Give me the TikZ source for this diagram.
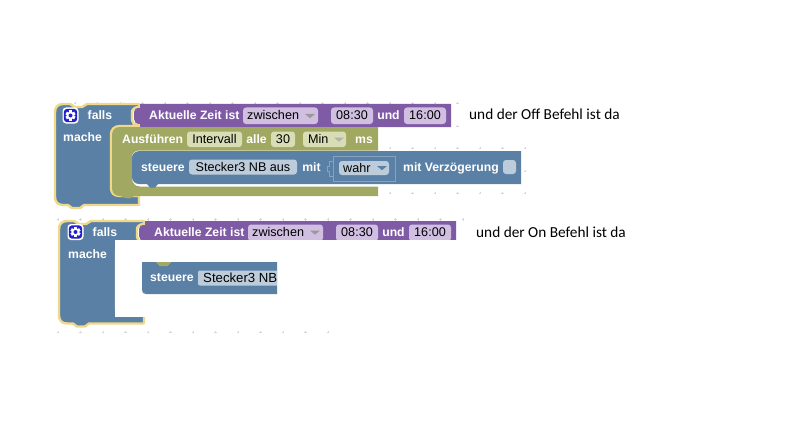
\documentclass[tikz,border=0pt]{standalone}
\usepackage{fontspec}
\setmainfont{Liberation Sans}
\newfontfamily\notefont{Carlito}
\definecolor{bblue}{HTML}{5B80A5}
\definecolor{bpurple}{HTML}{7F5BA6}
\definecolor{bgreen}{HTML}{A0A862}
\definecolor{byellow}{HTML}{EFD88A}
\definecolor{fblue}{HTML}{BDCCDB}
\definecolor{fpurple}{HTML}{D0BFE0}
\definecolor{fgreen}{HTML}{D9DDB5}
\definecolor{griddot}{HTML}{D8D8D8}
\definecolor{iconblue}{HTML}{2222CC}
\tikzset{
  lab/.style={font=\fontsize{12.2}{14}\selectfont\bfseries,text=white,inner sep=0pt,anchor=base west},
  labc/.style={font=\fontsize{12.2}{14}\selectfont\bfseries,text=white,inner sep=0pt,anchor=base},
  fieldtext/.style={font=\fontsize{12.6}{14}\selectfont,text=black,inner sep=0pt,anchor=base west},
  fieldc/.style={font=\fontsize{12.6}{14}\selectfont,text=black,inner sep=0pt,anchor=base},
  fld/.style={rounded corners=3pt,draw=none},
  hatfill/.style={line width=2.4pt,draw=byellow,fill=bblue,line join=round},
  note/.style={font=\notefont\fontsize{15.3}{17}\selectfont,text=black,inner sep=0pt,anchor=base west},
  griddotmark/.style={griddot,line width=0.5pt}
}
\newcommand{\gdot}[2]{\draw[griddotmark] (#1-1.2,#2) -- (#1+1.2,#2) (#1,#2-1.2) -- (#1,#2+1.2);}
\newcommand{\arrowdown}[3]{\fill[#3] (#1-5,#2-2) -- (#1+5,#2-2) -- (#1,#2+2.2) -- cycle;}
\newcommand{\gearicon}[2]{%
  \fill[white,rounded corners=3.5pt] (#1-8,#2-8) rectangle (#1+8,#2+8);
  \fill[iconblue,rounded corners=3pt] (#1-6.6,#2-6.6) rectangle (#1+6.6,#2+6.6);
  \foreach \a in {0,60,120}{\fill[white,rotate around={\a:(#1,#2)}] (#1-1.5,#2-5) rectangle (#1+1.5,#2+5);}
  \fill[white] (#1,#2) circle (3.9);
  \fill[iconblue] (#1,#2) circle (2);
}
\begin{document}
\begin{tikzpicture}[x=1pt,y=-1pt]
\useasboundingbox (0,0) rectangle (794,425);
\fill[white] (0,0) rectangle (794,425);
% grid points, first block
\foreach \x in {75,97.5,120,142.5,165,187.5,210,232.5,255,277.5,300,322.5,345,367.5,390,412.5,435,457.5}{\gdot{\x}{103}}
\gdot{457.5}{126}
\foreach \x in {390,412.5,435,457.5,480,502.5,525}{\gdot{\x}{148}\gdot{\x}{193}}
\gdot{525}{171}
% grid points, second block
\foreach \x in {58,80.5,103,125.5,148,170.5,193,215.5,238,260.5,283,305.5,328}{\gdot{\x}{332}}
\foreach \x in {58,80.5,103,125.5,148,170.5,193,215.5,238,260.5,283,305.5,328,350.5,373,395.5,418,440.5,463}{\gdot{\x}{219.5}}
\gdot{553}{265}\gdot{553}{288}\gdot{553}{308}
% ---------- first block ----------
\draw[hatfill] (55,112) .. controls (55,107) and (58,104) .. (63,104) -- (70,104) -- (75,107) -- (82,107) -- (87,104) -- (139,104) -- (139,107)
  .. controls (134,107) and (132,110) .. (132,112) -- (132,120) .. controls (132,123) and (134,125) .. (139,125)
  -- (139,126) -- (120,126) .. controls (114,126) and (111,130) .. (111,134) -- (111,188)
  .. controls (111,193) and (114,196) .. (120,196) -- (139,196) -- (139,205) -- (84,205) -- (80,208) -- (72,208) -- (68,205)
  -- (63,205) .. controls (58,205) and (55,202) .. (55,197) -- cycle;
\fill[bpurple] (140,104) -- (451,104) -- (451,127) -- (140,127) -- (140,124) .. controls (136,124) and (134,122) .. (134,119)
  -- (134,112) .. controls (134,109) and (136,108) .. (140,108) -- cycle;
\fill[bgreen] (120,127) -- (378,127) -- (378,150.5) -- (139,150.5) .. controls (135,150.5) and (132,153) .. (132,157)
  -- (132,178) .. controls (132,183) and (135,186.5) .. (140,186.5) -- (378,186.5) -- (378,196) -- (134,196) -- (130,198.5) -- (125,198) -- (121,196) -- (120,196)
  .. controls (115,196) and (112,193) .. (112,188) -- (112,135) .. controls (112,130) and (115,127) .. (120,127) -- cycle;
\fill[bblue] (140,151) -- (521,151) -- (521,184) -- (158,184) -- (155,187.5) -- (150,187.5) -- (147,184) -- (139,184)
  .. controls (135,184) and (132,181) .. (132,177) -- (132,158) .. controls (132,154) and (135,151) .. (140,151) -- cycle;
\gearicon{70.5}{115.5}
\node[lab] (falls1) at (87.5,120) {falls};
\node[lab] (mache1) at (63,141.5) {mache};
\node[lab] (zeit1) at (149,120) {Aktuelle Zeit ist};
\fill[fpurple,fld] (243,107.5) rectangle (318,124);
\node[fieldtext] (zw1) at (247,120) {zwischen};
\arrowdown{310}{116}{black!40}
\fill[fpurple,fld] (331,107.5) rectangle (373,124);
\node[fieldc] (von1) at (352,120) {08:30};
\node[labc] (und1) at (388.5,120) {und};
\fill[fpurple,fld] (404,107.5) rectangle (446,124);
\node[fieldc] (bis1) at (425,120) {16:00};
\node[lab] (aus1) at (122,143) {Ausführen};
\fill[fgreen,fld] (187,131.5) rectangle (242,147);
\node[fieldc] (int1) at (214.5,143.5) {Intervall};
\node[labc] (alle1) at (256.5,143) {alle};
\fill[fgreen,fld] (271,131.5) rectangle (295,147);
\node[fieldc] (n1) at (283,143.5) {30};
\fill[fgreen,fld] (303,131.5) rectangle (346,147);
\node[fieldtext] (min1) at (308,143.5) {Min};
\arrowdown{339}{139.5}{black!30}
\node[labc] (ms1) at (364,143) {ms};
\node[lab] (st1) at (141,171) {steuere};
\fill[fblue,fld] (189,159.5) rectangle (297,174.5);
\node[fieldc] (stk1) at (243,171.5) {Stecker3 NB aus};
\node[labc] (mit1) at (311.5,171) {mit};
\draw[fblue!45!bblue,line width=0.6pt] (333,156) rectangle (395,181);
\draw[fblue!45!bblue,line width=0.6pt] (333,161) -- (329,161) -- (329,166) -- (327.5,166) -- (327.5,171) -- (329,171) -- (329,176) -- (333,176);
\fill[fblue,fld] (339,161) rectangle (389,175);
\node[fieldtext] (wahr1) at (343,172) {wahr};
\arrowdown{382}{168}{bblue}
\node[lab] (vz1) at (403,171) {mit Verzögerung};
\fill[fblue,fld] (503,160) rectangle (516,174);
\node[note] (off) at (469,120) {und der Off Befehl ist da};
% ---------- second block ----------
\draw[hatfill] (59,229) .. controls (59,224) and (62,221) .. (67,221) -- (74,221) -- (79,224) -- (86,224) -- (91,221) -- (144,221) -- (144,224)
  .. controls (139,224) and (137,227) .. (137,229) -- (137,237) .. controls (137,240) and (139,242) .. (144,242)
  -- (144,243) -- (125,243) -- (116,250) -- (116,310) -- (125,314) -- (144,314) -- (144,323.5) -- (89,323.5) -- (85,326.5) -- (77,326.5) -- (73,323.5)
  -- (67,323.5) .. controls (62,323.5) and (59,320.5) .. (59,315.5) -- cycle;
\fill[bpurple] (145,221) -- (456,221) -- (456,244) -- (145,244) -- (145,241) .. controls (141,241) and (139,239) .. (139,236)
  -- (139,229) .. controls (139,226) and (141,225) .. (145,225) -- cycle;
\gearicon{75.5}{232}
\node[lab] (falls2) at (92.5,236.5) {falls};
\node[lab] (mache2) at (68,258.5) {mache};
\node[lab] (zeit2) at (154,236.5) {Aktuelle Zeit ist};
\fill[fpurple,fld] (248,224.5) rectangle (323,241);
\node[fieldtext] (zw2) at (252,236.5) {zwischen};
\arrowdown{315}{232.5}{black!40}
\fill[fpurple,fld] (336,224.5) rectangle (378,241);
\node[fieldc] (von2) at (357,236.5) {08:30};
\node[labc] (und2) at (393.5,236.5) {und};
\fill[fpurple,fld] (409,224.5) rectangle (451,241);
\node[fieldc] (bis2) at (430,236.5) {16:00};
\node[note] (on) at (476,237.5) {und der On Befehl ist da};
% white cover
\fill[white] (115,240) rectangle (555,317);
\fill[white] (146,317) rectangle (555,325);
% steuere fragment
\fill[bblue] (142,262) -- (156,262) -- (160,266) -- (167,266) -- (171,262) -- (277,262) -- (277,294) -- (146,294) .. controls (143.5,294) and (142,292.5) .. (142,290) -- cycle;
\fill[bgreen] (156,262) -- (171,262) -- (167,266) -- (160,266) -- cycle;
\node[lab] (st2) at (150,281.5) {steuere};
\fill[fblue] (200,270.5) -- (277,270.5) -- (277,285.5) -- (200,285.5) .. controls (198,285.5) and (198,284) .. (198,283) -- (198,273) .. controls (198,271.5) and (198.5,270.5) .. (200,270.5) -- cycle;
\node[fieldtext,font=\fontsize{13.2}{14}\selectfont] (stk2) at (203,282) {Stecker3 NB};
\end{tikzpicture}
\end{document}
